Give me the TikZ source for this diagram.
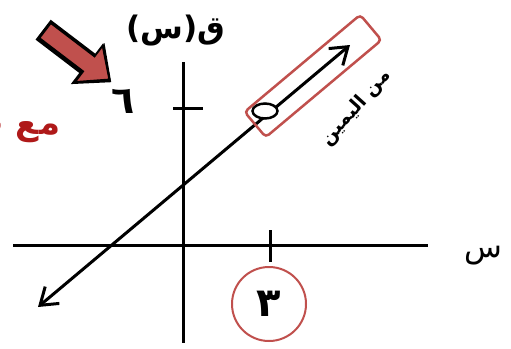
\documentclass[tikz,border=0pt]{standalone}
\usepackage{fontspec}
\newfontfamily\arabicfont[Script=Arabic]{DejaVu Sans}
\TeXXeTstate=1
\usetikzlibrary{arrows.meta, shapes.geometric}
\definecolor{markred}{RGB}{192,80,77}
\definecolor{textred}{RGB}{175,25,25}

\begin{document}
\begin{tikzpicture}[x=1pt, y=-1pt, >={Straight Barb[length=16pt,width=22pt]}, line width=3pt]
    \useasboundingbox (0,0) rectangle (511,348);

    % Axes
    \coordinate (xl) at (13,245);
    \coordinate (xr) at (428,245);
    \coordinate (yt) at (183,62);
    \coordinate (yb) at (183,343);
    \draw (xl) -- (xr);
    \draw (yt) -- (yb);
    \draw (270,230) -- (270,262);
    \draw (173,108) -- (203,108);

    \node[font=\arabicfont\bfseries\fontsize{31}{31}\selectfont] (fx) at (176,31) {\beginR ق(س)\endR};
    \node[font=\arabicfont\bfseries\fontsize{38}{38}\selectfont] (six) at (123,101) {٦};
    \node[font=\arabicfont\fontsize{31}{31}\selectfont] (xlab) at (483,256) {س};
    \node[circle, draw=markred, line width=2pt, minimum size=74pt,
          font=\arabicfont\bfseries\fontsize{40}{40}\selectfont] (three) at (269,304) {٣};

    % Line
    \coordinate (lo) at (38,307);
    \coordinate (hi) at (350,45);
    \draw[<->] (lo) -- (hi);
    \node[draw, ellipse, fill=white, line width=2.5pt, minimum width=25pt, minimum height=15pt, inner sep=0pt] (pt) at (265,111) {};
    \node[draw=markred, rounded corners=4pt, line width=2.5pt, minimum width=151pt, minimum height=33pt, rotate=40] (box) at (313,76) {};
    \node[rotate=48, font=\arabicfont\bfseries\fontsize{19}{19}\selectfont] (rlab) at (356,108) {\beginR من اليمين\endR};

    % Pointer
    \begin{scope}[shift={(45,30.5)}, rotate=-37.3, line join=miter]
        \fill[black] (-2,-12) -- (55,-12) -- (55,-26) -- (84,1) -- (53,27) -- (53,13) -- (-2,13) -- cycle;
        \draw[fill=markred, line width=2pt] (0,-9.5) -- (55,-9.5) -- (55,-23) -- (81,0) -- (55,23) -- (55,9.5) -- (0,9.5) -- cycle;
    \end{scope}

    \node[font=\arabicfont\bfseries\fontsize{34}{34}\selectfont, text=textred, anchor=east] (greet) at (65,132) {\beginR مع ت\endR};
\end{tikzpicture}
\end{document}
